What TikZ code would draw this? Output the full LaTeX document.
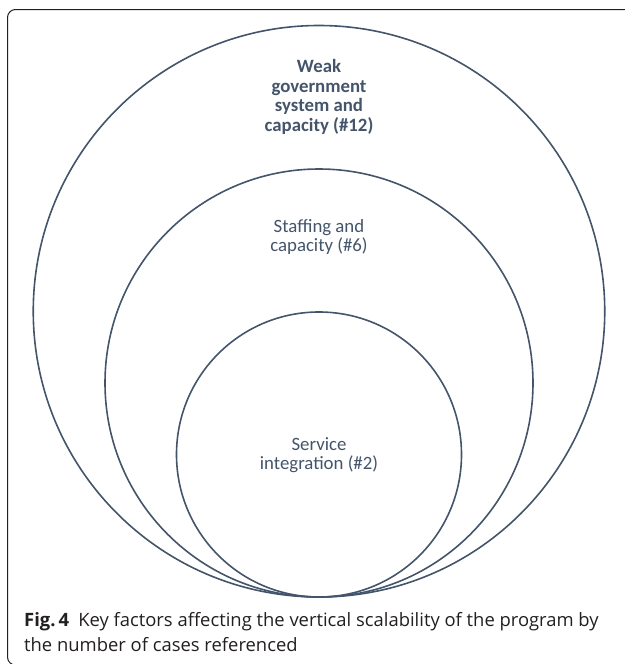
\documentclass[tikz,border=0pt]{standalone}
\usepackage{fontspec}
\setmainfont{Carlito}
\newfontfamily\capfont{Open Sans}
\usetikzlibrary{positioning}
\definecolor{ringslate}{HTML}{44546A}
\definecolor{capblack}{HTML}{231F20}

\begin{document}
\begin{tikzpicture}[x=1pt,y=-1pt,font=\fontsize{18.8}{19.5}\selectfont,
    ring/.style={line width=1.6pt,ringslate},
    ringtext/.style={ringslate,align=center,inner sep=0pt},
    captext/.style={capblack,font=\capfont\fontsize{18.4}{25}\selectfont,anchor=base west,inner sep=0pt}]
    \useasboundingbox (0,0) rectangle (624,664);
    % frame of the figure box
    \draw[line width=1pt,capblack,rounded corners=8pt] (7.5,9.5) rectangle (700,665);
    % nested circles touching at the bottom
    \foreach \cy/\r in {311.25/285.75,383/214,454.5/142.5}
      \draw[ring] (319,\cy) circle[radius=\r];
    \node[ringtext,font=\bfseries\fontsize{18.8}{19.5}\selectfont] (weak) at (319,97) {Weak\\government\\system and\\capacity (\#12)};
    \node[ringtext] (staff) at (319,237) {Staffing and\\capacity (\#6)};
    \node[ringtext] (service) at (319,455) {Service\\integration (\#2)};
    % caption
    \node[captext] (cap1) at (24,626.7) {\textbf{Fig.\,4}\enspace Key factors affecting the vertical scalability of the program by};
    \node[captext] (cap2) at (24,651.7) {the number of cases referenced};
  \end{tikzpicture}
\end{document}
